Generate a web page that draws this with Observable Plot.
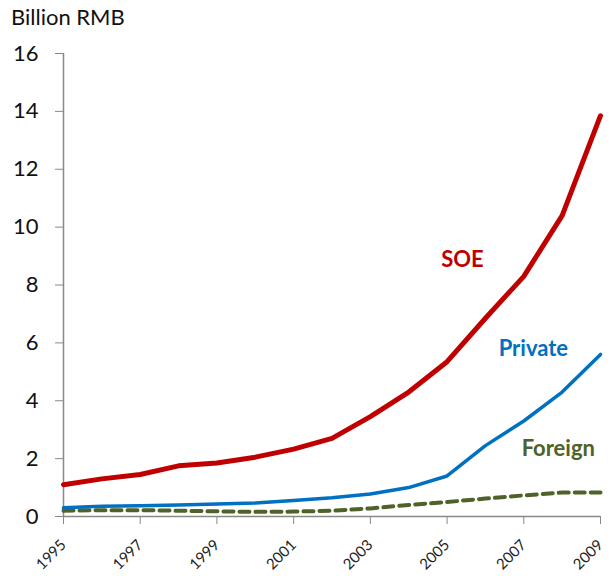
<!DOCTYPE html>
<html><head><meta charset="utf-8">
<script src="https://cdn.jsdelivr.net/npm/d3@7"></script>
<script src="https://cdn.jsdelivr.net/npm/@observablehq/plot@0.6"></script>
<style>
body{margin:0;background:#fff;font-family:Lato,sans-serif;}
#title{height:36px;line-height:34px;padding-left:11px;font-size:22px;color:#111;}
</style>
</head><body>
<div id="title">Billion RMB</div>
<div id="chart"></div>
<script>
const years = [1995,1996,1997,1998,1999,2000,2001,2002,2003,2004,2005,2006,2007,2008,2009];
const soe = [1.1,1.3,1.45,1.75,1.85,2.05,2.33,2.7,3.45,4.3,5.35,6.85,8.3,10.4,13.85];
const priv = [0.3,0.35,0.37,0.4,0.43,0.47,0.55,0.65,0.78,1.0,1.4,2.45,3.3,4.3,5.6];
const foreign = [0.2,0.22,0.22,0.2,0.18,0.16,0.17,0.2,0.28,0.4,0.5,0.62,0.73,0.83,0.83];
const xTicks = [1995,1997,1999,2001,2003,2005,2007,2009];
const yTicks = [0,2,4,6,8,10,12,14,16];
const seriesNames = ["SOE","Private","Foreign"];
const colors = ["#C00000","#0070C0","#4F6228"];
const labelPos = [{x:2005.4,y:8.85},{x:2007.25,y:5.8},{x:2007.9,y:2.35}];

const mk = vals => years.map((yr,i)=>({year:yr,value:vals[i]}));
const dSoe = mk(soe), dPriv = mk(priv), dFor = mk(foreign);
const labels = seriesNames.map((n,i)=>({name:n,x:labelPos[i].x,y:labelPos[i].y,color:colors[i]}));

const chart = Plot.plot({
  width:612, height:540,
  marginLeft:63, marginRight:12, marginTop:17, marginBottom:60,
  style:{fontFamily:"Lato, sans-serif", background:"#fff"},
  x:{domain:[1995,2009]},
  y:{domain:[0,16]},
  marks:[
    Plot.ruleX([1995],{y1:0,y2:16,stroke:"#888",strokeWidth:1.5}),
    Plot.ruleY([0],{stroke:"#888",strokeWidth:1.5}),
    Plot.axisY({ticks:yTicks, tickSize:8, tickPadding:17, fontSize:22, label:null, stroke:"#888", color:"#111"}),
    Plot.axisX({ticks:xTicks, tickFormat:d=>String(d), tickSize:8, tickPadding:18, tickRotate:-45, fontSize:15, label:null, stroke:"#888", color:"#222"}),
    Plot.line(dFor,{x:"year",y:"value",stroke:colors[2],strokeWidth:4,strokeDasharray:"10,6"}),
    Plot.line(dPriv,{x:"year",y:"value",stroke:colors[1],strokeWidth:3.5}),
    Plot.line(dSoe,{x:"year",y:"value",stroke:colors[0],strokeWidth:5}),
    Plot.text(labels,{x:"x",y:"y",text:"name",fill:"color",fontSize:22,fontWeight:"bold"})
  ]
});
document.getElementById("chart").appendChild(chart);
</script>
</body></html>
